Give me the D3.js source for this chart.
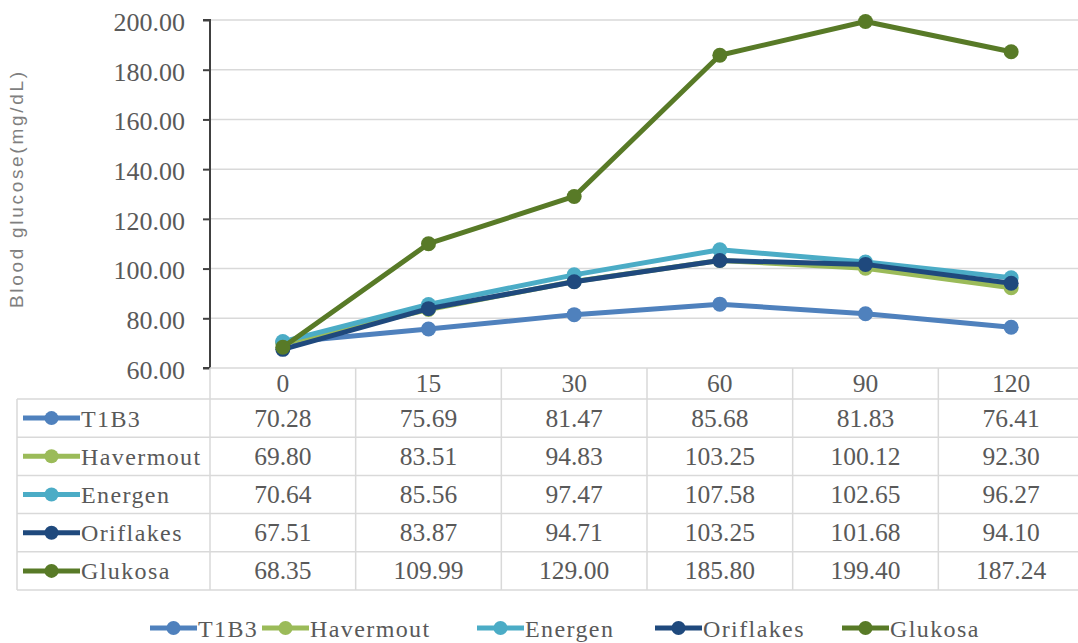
<!DOCTYPE html>
<html>
<head>
<meta charset="utf-8">
<script src="https://cdn.jsdelivr.net/npm/d3@7"></script>
<style>
  body { margin: 0; background: #fff; }
</style>
</head>
<body>
<script>
(function(){

    const svgWidth = 1078,
        svgHeight = 643;

    // data
    const times = ["0", "15", "30", "60", "90", "120"];
    const seriesNames = ["T1B3", "Havermout", "Energen", "Oriflakes", "Glukosa"];
    const t1b3 = [70.28, 75.69, 81.47, 85.68, 81.83, 76.41];
    const havermout = [69.80, 83.51, 94.83, 103.25, 100.12, 92.30];
    const energen = [70.64, 85.56, 97.47, 107.58, 102.65, 96.27];
    const oriflakes = [67.51, 83.87, 94.71, 103.25, 101.68, 94.10];
    const glukosa = [68.35, 109.99, 129.00, 185.80, 199.40, 187.24];
    const yTicks = [60, 80, 100, 120, 140, 160, 180, 200];

    const colors = ["#4f81bd", "#9bbb59", "#4bacc6", "#1f497d", "#587a27"];
    const series = [t1b3, havermout, energen, oriflakes, glukosa].map((v, i) => ({
        name: seriesNames[i], values: v, color: colors[i]
    }));

    const textColor = "#595959";

    // chart area
    const plotLeft = 210, plotRight = 1084, plotTop = 20, plotBottom = 368;
    const tableLeft = 17, rowTop = 399, rowH = 38.2;
    const gridColor = "#d9d9d9";

    const svg = d3.select("body")
        .append("svg")
        .attr("width", svgWidth)
        .attr("height", svgHeight);

    const x = d3.scaleBand()
        .domain(times)
        .range([plotLeft, plotRight]);

    const y = d3.scaleLinear()
        .domain([60, 200])
        .range([plotBottom, plotTop]);

    // serif text helper
    function serifText(sel, size) {
        return sel.attr("font-family", "Liberation Serif")
            .attr("font-size", size)
            .attr("fill", textColor);
    }

    // gridlines
    svg.append("g")
        .selectAll("line")
        .data(yTicks.slice(1))
        .enter().append("line")
        .attr("x1", plotLeft).attr("x2", svgWidth)
        .attr("y1", d => y(d)).attr("y2", d => y(d))
        .attr("stroke", gridColor).attr("stroke-width", 1.5);

    // y axis
    const leftAxis = d3.axisLeft(y)
        .tickValues(yTicks)
        .tickFormat(d3.format(".2f"))
        .tickSize(7)
        .tickPadding(18);

    const yAxisG = svg.append("g")
        .attr("transform", `translate(${plotLeft},0)`)
        .call(leftAxis);
    yAxisG.select(".domain").attr("stroke", "#404040").attr("stroke-width", 2)
        .attr("d", `M-7,${plotTop}H0V${plotBottom}H-7`);
    yAxisG.selectAll(".tick line").attr("stroke", "#404040").attr("stroke-width", 2);
    serifText(yAxisG.selectAll(".tick text"), 26)
        .attr("dy", "0.4em");

    // y axis title
    svg.append("text")
        .attr("transform", `translate(23, 190) rotate(-90)`)
        .attr("text-anchor", "middle")
        .attr("font-family", "Liberation Sans")
        .attr("font-size", 19)
        .attr("fill", "#7f7f7f")
        .attr("textLength", 236)
        .attr("lengthAdjust", "spacing")
        .text("Blood glucose(mg/dL)");

    // data table
    const table = svg.append("g");
    const rowYs = d3.range(seriesNames.length + 1).map(i => rowTop + i * rowH);

    // horizontal lines
    table.append("line")
        .attr("x1", plotLeft).attr("x2", svgWidth)
        .attr("y1", plotBottom).attr("y2", plotBottom)
        .attr("stroke", gridColor).attr("stroke-width", 1.5);
    table.selectAll("line.h")
        .data(rowYs)
        .enter().append("line")
        .attr("class", "h")
        .attr("x1", tableLeft).attr("x2", svgWidth)
        .attr("y1", d => d).attr("y2", d => d)
        .attr("stroke", gridColor).attr("stroke-width", 1.5);

    // vertical lines
    table.append("line")
        .attr("x1", tableLeft).attr("x2", tableLeft)
        .attr("y1", rowTop).attr("y2", rowYs[rowYs.length - 1])
        .attr("stroke", gridColor).attr("stroke-width", 1.5);
    table.selectAll("line.v")
        .data(times)
        .enter().append("line")
        .attr("class", "v")
        .attr("x1", d => x(d)).attr("x2", d => x(d))
        .attr("y1", plotBottom).attr("y2", rowYs[rowYs.length - 1])
        .attr("stroke", gridColor).attr("stroke-width", 1.5);

    // header (category labels)
    serifText(table.selectAll("text.cat")
        .data(times)
        .enter().append("text")
        .attr("class", "cat")
        .attr("x", d => x(d) + x.bandwidth() / 2)
        .attr("y", (plotBottom + rowTop) / 2 + 8.5)
        .attr("text-anchor", "middle"), 25.5)
        .text(d => d);

    // rows
    const rows = table.selectAll("g.row")
        .data(series)
        .enter().append("g")
        .attr("class", "row")
        .attr("transform", (d, i) => `translate(0, ${rowTop + i * rowH})`);

    rows.append("line")
        .attr("x1", 23).attr("x2", 80)
        .attr("y1", rowH / 2).attr("y2", rowH / 2)
        .attr("stroke", d => d.color).attr("stroke-width", 5);
    rows.append("circle")
        .attr("cx", 51.5).attr("cy", rowH / 2).attr("r", 7)
        .attr("fill", d => d.color);
    serifText(rows.append("text")
        .attr("x", 81).attr("y", rowH / 2 + 8.5)
        .attr("letter-spacing", 1.4), 24)
        .text(d => d.name);

    serifText(rows.selectAll("text.val")
        .data(d => d.values)
        .enter().append("text")
        .attr("class", "val")
        .attr("x", (d, i) => x(times[i]) + x.bandwidth() / 2)
        .attr("y", rowH / 2 + 8.5)
        .attr("text-anchor", "middle"), 25.5)
        .text(d => d.toFixed(2));

    // lines
    const line = d3.line()
        .x((d, i) => x(times[i]) + x.bandwidth() / 2)
        .y(d => y(d));

    const seriesG = svg.append("g")
        .selectAll("g")
        .data(series)
        .enter().append("g");

    seriesG.append("path")
        .attr("d", d => line(d.values))
        .attr("fill", "none")
        .attr("stroke", d => d.color)
        .attr("stroke-width", 5)
        .attr("stroke-linejoin", "round");

    seriesG.selectAll("circle")
        .data(d => d.values.map(v => ({ v: v, color: d.color })))
        .enter().append("circle")
        .attr("cx", (d, i) => x(times[i]) + x.bandwidth() / 2)
        .attr("cy", d => y(d.v))
        .attr("r", 7.5)
        .attr("fill", d => d.color);

    // bottom legend
    const legendX = [150, 262, 477, 655, 842];
    const legend = svg.append("g")
        .selectAll("g")
        .data(series)
        .enter().append("g")
        .attr("transform", (d, i) => `translate(${legendX[i]}, 628)`);

    legend.append("line")
        .attr("x1", 0).attr("x2", 47)
        .attr("stroke", d => d.color).attr("stroke-width", 5);
    legend.append("circle")
        .attr("cx", 23.5).attr("r", 7)
        .attr("fill", d => d.color);
    serifText(legend.append("text")
        .attr("x", 48).attr("y", 8.5)
        .attr("letter-spacing", 1.4), 24)
        .text(d => d.name);

})();
</script>
</body>
</html>
